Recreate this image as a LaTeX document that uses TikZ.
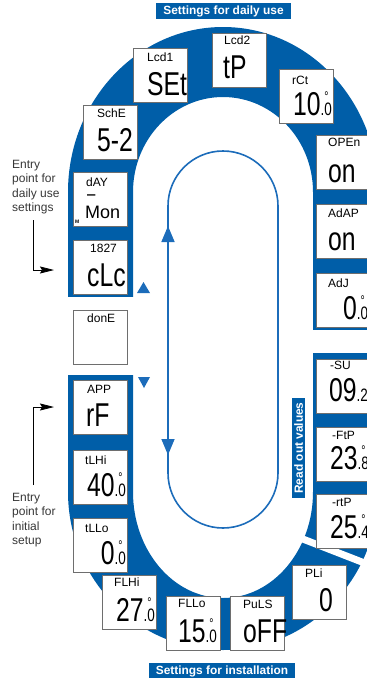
\documentclass[tikz,border=0pt]{standalone}
\usepackage{fontspec}
\setmainfont{Liberation Sans}
\newfontfamily\lcdfont[FakeStretch=0.75]{Liberation Sans}
\usetikzlibrary{positioning,arrows.meta}
\definecolor{ringblue}{RGB}{0,94,168}
\definecolor{loopblue}{RGB}{28,108,186}
\definecolor{rimgray}{RGB}{110,110,110}
\definecolor{notegray}{RGB}{55,55,55}
% small decimal digit, with or without degree sign
\newcommand{\lcddeg}[1]{{\fontsize{18}{18}\selectfont.\rlap{\raisebox{14pt}{\fontsize{14}{14}\selectfont °}}#1}}
\newcommand{\lcddot}[1]{{\fontsize{18}{18}\selectfont.#1}}

\begin{document}
\begin{tikzpicture}[x=1pt, y=-1pt, node distance=13pt,
  panel/.style = {draw=rimgray, fill=white, line width=1pt, minimum size=54pt, inner sep=0pt},
  lcdcap/.style = {anchor=north west, inner sep=0pt, text depth=0pt, font=\fontsize{12}{12}\selectfont},
  lcdnum/.style = {anchor=base east, inner sep=0pt, text height=24pt, text depth=0pt, font=\lcdfont\fontsize{33}{33}\selectfont},
  lcdword/.style = {anchor=base west, inner sep=0pt, text height=24pt, text depth=0pt, font=\lcdfont\fontsize{33}{33}\selectfont},
  banner/.style = {fill=ringblue, text=white, inner xsep=7pt, inner ysep=2.5pt, font=\bfseries\fontsize{11.9}{12}\selectfont},
  entrynote/.style = {anchor=north west, inner sep=0pt, align=left, text=notegray, font=\fontsize{12}{14.5}\selectfont},
  entryarrow/.style = {draw=black, line width=0.8pt, -{Stealth[length=14pt, width=7pt, inset=2pt]}},
  flow/.style = {draw=loopblue, line width=1.6pt}]
\clip (0,0) rectangle (367,678);

% blue ring and its three cuts
\fill[ringblue, even odd rule]
  (68,192) arc[start angle=180, end angle=360, x radius=155, y radius=165] -- (378,492)
  arc[start angle=0, end angle=180, x radius=155, y radius=158] -- cycle
  (133,192) arc[start angle=180, end angle=360, x radius=90, y radius=95] -- (313,492)
  arc[start angle=0, end angle=180, x radius=90, y radius=106] -- cycle;
\fill[white] (60,296.5) rectangle (140,374.5);
\fill[white] (305,330) rectangle (385,352.5);
\draw[white, line width=7pt] (290,534) -- (385,571);

% loop in the middle
\draw[flow, rounded corners=55pt] (168,151) rectangle (278,528);
\draw[flow, -{Triangle[length=16pt, width=13pt]}] (168,260) -- (168,226);
\draw[flow, -{Triangle[length=16pt, width=13pt]}] (168,420) -- (168,455);
\fill[loopblue] (137,293) -- (150,293) -- (143.5,282) -- cycle;
\fill[loopblue] (138,377) -- (150,377) -- (144,388) -- cycle;

% daily use
\node[panel] (sche) at (110.5,132.5) {};
\node[lcdcap] (schec) at ([shift={(14,4)}]sche.north west) {SchE};
\node[lcdword] (schev) at ([shift={(14,46)}]sche.north west) {5-2};

\node[panel] (lcd1) at (160.5,75.5) {};
\node[lcdcap] (lcd1c) at ([shift={(14,5)}]lcd1.north west) {Lcd1};
\node[lcdword] (lcd1v) at ([shift={(14,47)}]lcd1.north west) {SEt};

\node[panel] (lcd2) at (239.5,60.5) {};
\node[lcdcap] (lcd2c) at ([shift={(12,3)}]lcd2.north west) {Lcd2};
\node[lcdword] (lcd2v) at ([shift={(11,45)}]lcd2.north west) {tP};

\node[panel] (rct) at (306.5,96.5) {};
\node[lcdcap] (rctc) at ([shift={(13,7)}]rct.north west) {rCt};
\node[lcdnum] (rctv) at ([shift={(53,46)}]rct.north west) {10\lcddeg{0}};

\node[panel] (open) at (343.5,162.5) {};
\node[panel, below=14pt of open] (adap) {};
\node[panel, below=14pt of adap] (adj) {};
\node[lcdcap] (openc) at ([shift={(12,3)}]open.north west) {OPEn};
\node[lcdword] (openv) at ([shift={(12,47)}]open.north west) {on};
\node[lcdcap] (adapc) at ([shift={(12,5)}]adap.north west) {AdAP};
\node[lcdword] (adapv) at ([shift={(12,46)}]adap.north west) {on};
\node[lcdcap] (adjc) at ([shift={(12,6)}]adj.north west) {AdJ};
\node[lcdword] (adjv) at ([shift={(27,46)}]adj.north west) {0\lcddeg{0}};

\node[panel] (day) at (100.5,199.5) {};
\node[panel, below=of day] (clc) {};
\node[lcdcap] (dayc) at ([shift={(13,6)}]day.north west) {dAY};
\node[lcdword, text height=6pt, font=\lcdfont\fontsize{20}{20}\selectfont] (dayd) at ([shift={(14,28)}]day.north west) {–};
\node[lcdword, text height=13pt, font=\fontsize{18}{18}\selectfont] (dayv) at ([shift={(12,46)}]day.north west) {Mon};
\node[lcdword, text height=4pt, font=\bfseries\fontsize{5}{5}\selectfont] (daym) at ([shift={(2,51)}]day.north west) {M};
\node[lcdcap] (clcc) at ([shift={(17,4)}]clc.north west) {1827};
\node[lcdword] (clcv) at ([shift={(14,46)}]clc.north west) {cLc};

% read out values
\node[panel, below=31pt of adj] (su) {};
\node[panel, below=of su] (ftp) {};
\node[panel, below=12pt of ftp] (rtp) {};
\node[lcdcap] (suc) at ([shift={(14,2)}]su.north west) {-SU};
\node[lcdword] (suv) at ([shift={(13,42)}]su.north west) {09\lcddot{2}};
\node[lcdcap] (ftpc) at ([shift={(16,4)}]ftp.north west) {-FtP};
\node[lcdword] (ftpv) at ([shift={(14,42)}]ftp.north west) {23\lcddeg{8}};
\node[lcdcap] (rtpc) at ([shift={(16,4)}]rtp.north west) {-rtP};
\node[lcdword] (rtpv) at ([shift={(14,44)}]rtp.north west) {25\lcddeg{4}};

% done, then installation
\node[panel, below=15pt of clc] (done) {};
\node[lcdcap] (donec) at ([shift={(14,4)}]done.north west) {donE};

\node[panel, below=15pt of done] (app) {};
\node[panel, below=15pt of app] (tlhi) {};
\node[panel, below=of tlhi] (tllo) {};
\node[lcdcap] (appc) at ([shift={(14,5)}]app.north west) {APP};
\node[lcdword] (appv) at ([shift={(13,46)}]app.north west) {rF};
\node[lcdcap] (tlhic) at ([shift={(12,6)}]tlhi.north west) {tLHi};
\node[lcdnum] (tlhiv) at ([shift={(53,46)}]tlhi.north west) {40\lcddeg{0}};
\node[lcdcap] (tlloc) at ([shift={(12,6)}]tllo.north west) {tLLo};
\node[lcdnum] (tllov) at ([shift={(53,46)}]tllo.north west) {0\lcddeg{0}};

\node[panel] (flhi) at (129.5,602.5) {};
\node[panel] (fllo) at (193.5,623.5) {};
\node[panel, right=9pt of fllo] (puls) {};
\node[panel] (pli) at (319.5,592.5) {};
\node[lcdcap] (flhic) at ([shift={(12,3)}]flhi.north west) {FLHi};
\node[lcdnum] (flhiv) at ([shift={(53,46)}]flhi.north west) {27\lcddeg{0}};
\node[lcdcap] (flloc) at ([shift={(12,3)}]fllo.north west) {FLLo};
\node[lcdnum] (fllov) at ([shift={(51,46)}]fllo.north west) {15\lcddeg{0}};
\node[lcdcap] (pulsc) at ([shift={(13,4)}]puls.north west) {PuLS};
\node[lcdword] (pulsv) at ([shift={(13,46)}]puls.north west) {oFF};
\node[lcdcap] (plic) at ([shift={(13,4)}]pli.north west) {PLi};
\node[lcdnum] (pliv) at ([shift={(41,46)}]pli.north west) {0};

% headings
\node[banner] (daily) at (223.5,11) {Settings for daily use};
\node[banner] (install) at (222,671.5) {Settings for installation};
\node[banner, rotate=90, inner xsep=4pt] (readout) at (298.5,448) {Read out values};

% entry points
\node[entrynote] (dailynote) at (12,160) {Entry\\point for\\daily use\\settings};
\node[entrynote] (setupnote) at (12,493) {Entry\\point for\\initial\\setup};
\coordinate (d1) at (33,220);
\coordinate (d2) at (54,270);
\coordinate (s1) at (33,485);
\coordinate (s2) at (54,407);
\draw[entryarrow] (d1) |- (d2);
\draw[entryarrow] (s1) |- (s2);
\end{tikzpicture}
\end{document}
